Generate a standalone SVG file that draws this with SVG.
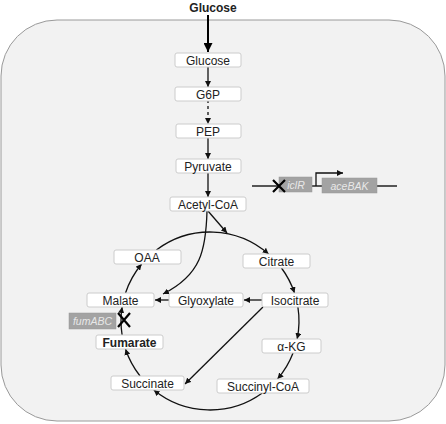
<svg xmlns="http://www.w3.org/2000/svg" width="446" height="424" viewBox="0 0 446 424">
<defs>
<style>
.bx{fill:#ffffff;stroke:#cccccc;stroke-width:1}
.t{font-family:"Liberation Sans",Arial,sans-serif;font-size:12px;fill:#222222;text-anchor:middle}
.b{font-weight:bold}
.gb{fill:#a3a3a3;stroke:#999999;stroke-width:0.5}
.gt{font-family:"Liberation Sans",Arial,sans-serif;font-size:10.5px;font-style:italic;fill:#e8e8e8;text-anchor:middle}
.c{fill:none;stroke:#111111;stroke-width:1.3}
.x{stroke:#000000;stroke-width:2.2;fill:none}
</style>
<marker id="ah" viewBox="0 0 10 10" refX="10" refY="5" markerWidth="6" markerHeight="6" markerUnits="userSpaceOnUse" orient="auto">
<path d="M0,0 L10,5 L0,10 z" fill="#111111"/>
</marker>
<marker id="ahb" viewBox="0 0 10 10" refX="10" refY="5" markerWidth="9" markerHeight="9" markerUnits="userSpaceOnUse" orient="auto">
<path d="M0,0 L10,5 L0,10 z" fill="#000000"/>
</marker>
</defs>
<rect x="0" y="0" width="446" height="424" fill="#ffffff"/>
<rect id="cell" x="1" y="20" width="444" height="401" rx="56" ry="56" fill="#f2f2f2" stroke="#9a9a9a" stroke-width="1"/>
<text class="t b" x="213" y="12">Glucose</text>

<g id="connectors">
<path d="M208,15 L208,52" stroke="#000" stroke-width="2" fill="none" marker-end="url(#ahb)"/>
<path class="c" d="M208,66 L208,87" marker-end="url(#ah)"/>
<path class="c" d="M208,100 L208,124" stroke-dasharray="3,3" marker-end="url(#ah)"/>
<path class="c" d="M208,138 L208,159" marker-end="url(#ah)"/>
<path class="c" d="M208,172 L208,197" marker-end="url(#ah)"/>
<path class="c" d="M208,211 L227,233" marker-end="url(#ah)"/>
<path class="c" d="M207,211 C206,250 201,275 163,294" marker-end="url(#ah)"/>
<path class="c" d="M156.33,250 A89,89 0 0 1 268.58,254" marker-end="url(#ah)"/>
<path class="c" d="M281.5,268 A89,89 0 0 1 294.48,293" marker-end="url(#ah)"/>
<path class="c" d="M297.89,307 A89,89 0 0 1 297.16,339" marker-end="url(#ah)"/>
<path class="c" d="M293.05,353 A89,89 0 0 1 277.51,379" marker-end="url(#ah)"/>
<path class="c" d="M262.32,393 A89,89 0 0 1 153.79,390" marker-end="url(#ah)"/>
<path class="c" d="M140.03,376 A89,89 0 0 1 125.52,349" marker-end="url(#ah)"/>
<path class="c" d="M122.11,335 A89,89 0 0 1 122.11,307" marker-end="url(#ah)"/>
<path class="c" d="M125.52,293 A89,89 0 0 1 141.65,264" marker-end="url(#ah)"/>
<path class="c" d="M169,300 L155,300" marker-end="url(#ah)"/>
<path class="c" d="M262,300 L244,300" marker-end="url(#ah)"/>
<path class="c" d="M263,307 L185,384" marker-end="url(#ah)"/>
<path d="M252,186 L397,186" stroke="#222" stroke-width="1.5" fill="none"/>
<path class="c" d="M316,186 L316,173 L343,173" marker-end="url(#ah)"/>
</g>

<g id="n-glucose"><rect class="bx" x="175" y="53" width="66" height="14" rx="2"/><text class="t" x="208" y="64.5">Glucose</text></g>
<g id="n-g6p"><rect class="bx" x="175" y="87" width="66" height="14" rx="2"/><text class="t" x="208" y="98.5">G6P</text></g>
<g id="n-pep"><rect class="bx" x="176" y="124" width="65" height="14" rx="2"/><text class="t" x="208" y="135.5">PEP</text></g>
<g id="n-pyruvate"><rect class="bx" x="176" y="159" width="65" height="14" rx="2"/><text class="t" x="208" y="170.5">Pyruvate</text></g>
<g id="n-acetylcoa"><rect class="bx" x="170" y="197" width="76" height="14" rx="2"/><text class="t" x="208" y="208.5">Acetyl-CoA</text></g>
<g id="n-oaa"><rect class="bx" x="114" y="250" width="67" height="14" rx="2"/><text class="t" x="147" y="261.5">OAA</text></g>
<g id="n-citrate"><rect class="bx" x="243" y="254" width="67" height="14" rx="2"/><text class="t" x="276.5" y="265.5">Citrate</text></g>
<g id="n-malate"><rect class="bx" x="87" y="293" width="67" height="14" rx="2"/><text class="t" x="120.5" y="304.5">Malate</text></g>
<g id="n-glyoxylate"><rect class="bx" x="169" y="293" width="74" height="14" rx="2"/><text class="t" x="206" y="304.5">Glyoxylate</text></g>
<g id="n-isocitrate"><rect class="bx" x="262" y="293" width="66" height="14" rx="2"/><text class="t" x="295" y="304.5">Isocitrate</text></g>
<g id="n-fumarate"><rect class="bx" x="96" y="335" width="67" height="14" rx="2"/><text class="t b" x="129.5" y="346.5">Fumarate</text></g>
<g id="n-akg"><rect class="bx" x="262" y="339" width="59" height="14" rx="2"/><text class="t" x="291.5" y="350.5">α-KG</text></g>
<g id="n-succinate"><rect class="bx" x="111" y="376" width="73" height="14" rx="2"/><text class="t" x="147.5" y="387.5">Succinate</text></g>
<g id="n-succinylcoa"><rect class="bx" x="217" y="379" width="92" height="14" rx="2"/><text class="t" x="263" y="390.5">Succinyl-CoA</text></g>

<g id="g-iclr"><rect class="gb" x="279" y="177" width="33" height="15"/><text class="gt" x="296" y="188.5">iclR</text></g>
<g id="g-acebak"><rect class="gb" x="322" y="178" width="55" height="15"/><text class="gt" x="349.5" y="189.5">aceBAK</text></g>
<g id="g-fumabc"><rect class="gb" x="69" y="313" width="47" height="16"/><text class="gt" x="92.5" y="325">fumABC</text></g>

<g id="knockout-iclr"><path class="x" d="M273,180 L285,192 M273,192 L285,180"/></g>
<g id="knockout-fumabc"><path class="x" d="M118,313 L130,327 M118,327 L130,313"/></g>
</svg>
